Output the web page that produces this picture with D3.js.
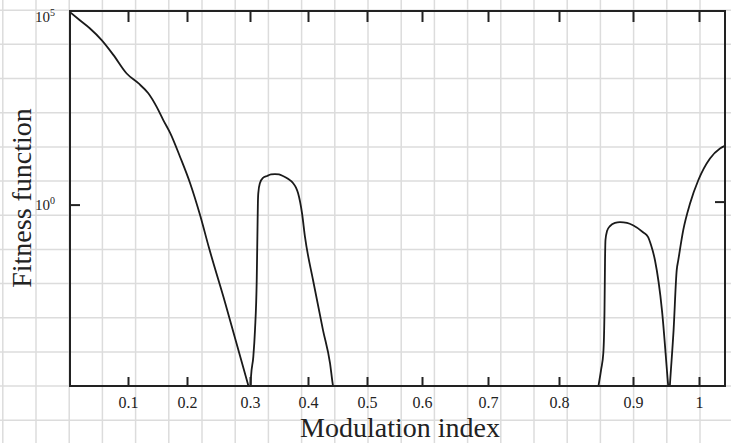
<!DOCTYPE html>
<head>
<meta charset="utf-8">
<script src="https://d3js.org/d3.v7.min.js"></script>
<style>
  body { margin: 0; background: #fff; }
  text { font-family: "Liberation Serif", "Times New Roman", serif; fill: #222; }
</style>
</head>
<body>
<svg id="chart" width="731" height="443"></svg>
<script>
  // tick values along the modulation index axis
  const xTicks = [0.1, 0.2, 0.3, 0.4, 0.5, 0.6, 0.7, 0.8, 0.9, 1];
  // the printed axis is not evenly spaced, these are the calibration points
  const xCalib = [0, 0.1, 0.2, 0.3, 0.4, 0.5, 0.6, 0.7, 0.8, 0.9, 1, 1.04];
  // decades labelled on the fitness axis
  const yTickExp = [5, 0];

  // the curve: modulation index and log10 of the fitness (null = gap)
  const modIndex = [
    0, 0.017, 0.0345, 0.0546, 0.0747, 0.0977, 0.1175, 0.1344, 0.1486, 0.1598,
    0.1714, 0.1883, 0.2048, 0.2206, 0.2349, 0.2603, 0.3,
    0.3002,
    0.3009, 0.3017, 0.3057, 0.3086, 0.3116, 0.3129, 0.3136, 0.3143, 0.3172, 0.3224,
    0.3293, 0.3362, 0.3431, 0.35, 0.3569, 0.3655, 0.3741, 0.3793, 0.3828, 0.3897,
    0.3948, 0.4085, 0.4254, 0.4373, 0.4424, 0.4458,
    0.45,
    0.8514, 0.8531, 0.8568, 0.8599, 0.8615, 0.8622, 0.8628, 0.8649, 0.8689, 0.8757,
    0.8824, 0.8919, 0.9, 0.9152, 0.9227, 0.9273, 0.9333, 0.9439, 0.953, 0.9548,
    0.9561, 0.9615, 0.9662, 0.9686, 0.9762, 0.9864, 0.9989, 1.0169, 1.0323, 1.039
  ];
  const fitnessExp = [
    4.97, 4.76, 4.55, 4.25, 3.87, 3.39, 3.14, 2.88, 2.53, 2.19,
    1.86, 1.24, 0.57, -0.25, -1.1, -2.5, -4.8,
    null,
    -4.8, -4.43, -3.91, -3.22, -1.93, -0.64, 0.05, 0.31, 0.57, 0.7,
    0.75, 0.79, 0.8, 0.79, 0.75, 0.68, 0.57, 0.45, 0.31, -0.21,
    -0.82, -1.93, -3.22, -4.07, -4.66, -4.9,
    null,
    -4.9, -4.69, -4.25, -3.81, -2.71, -1.42, -0.9, -0.67, -0.54, -0.46,
    -0.44, -0.46, -0.52, -0.7, -0.82, -1.03, -1.42, -2.71, -4.59, -4.95,
    -4.59, -3.22, -1.68, -1.42, -0.64, 0.04, 0.64, 1.2, 1.46, 1.52
  ];

  const svg = d3.select("#chart"),
    width = +svg.attr("width"),
    height = +svg.attr("height");
  const margin = {top: 11, right: 6, bottom: 57, left: 70};
  const plotW = width - margin.left - margin.right,
    plotH = height - margin.top - margin.bottom;

  // piecewise linear so the ticks land where the printed ones are
  const x = d3.scaleLinear()
    .domain(xCalib)
    .range([0, 58, 117, 180, 238, 297, 352, 418, 489, 563, 629, 655].map(v => margin.left + v * plotW / 655));
  const y = d3.scaleLog()
    .domain([Math.pow(10, -4.66), 1e5])
    .range([margin.top + plotH, margin.top]);

  // grid paper background
  const grid = svg.append("g").attr("stroke", "#dcdcdc").attr("stroke-width", 1.5);
  grid.selectAll("line.v")
    .data(d3.range(0, 23))
    .join("line")
    .attr("class", "v")
    .attr("x1", k => 2.8 + k * 33.2).attr("x2", k => 2.8 + k * 33.2)
    .attr("y1", 0).attr("y2", height);
  grid.selectAll("line.h")
    .data(d3.range(0, 13))
    .join("line")
    .attr("class", "h")
    .attr("y1", k => 10.2 + k * 34.17).attr("y2", k => 10.2 + k * 34.17)
    .attr("x1", 0).attr("x2", width);

  // curve
  svg.append("clipPath").attr("id", "plotclip")
    .append("rect")
    .attr("x", margin.left).attr("y", margin.top)
    .attr("width", plotW).attr("height", plotH);

  const points = modIndex.map((m, i) => ({x: m, e: fitnessExp[i]}));
  const line = d3.line()
    .defined(d => d.e !== null)
    .x(d => x(d.x))
    .y(d => y(Math.pow(10, d.e)))
    .curve(d3.curveMonotoneX);

  svg.append("path")
    .datum(points)
    .attr("clip-path", "url(#plotclip)")
    .attr("fill", "none")
    .attr("stroke", "#1a1a1a")
    .attr("stroke-width", 1.8)
    .attr("d", line);

  // frame
  svg.append("rect")
    .attr("x", margin.left).attr("y", margin.top)
    .attr("width", plotW).attr("height", plotH)
    .attr("fill", "none")
    .attr("stroke", "#222")
    .attr("stroke-width", 2);

  // bottom axis, ticks pointing in
  const bottomAxis = svg.append("g")
    .attr("transform", `translate(0,${margin.top + plotH})`)
    .call(d3.axisBottom(x).tickValues(xTicks).tickSizeInner(-9).tickSizeOuter(0).tickPadding(11).tickFormat(d3.format("")));
  bottomAxis.select(".domain").remove();
  bottomAxis.selectAll(".tick line").attr("stroke", "#222").attr("stroke-width", 2);
  bottomAxis.selectAll(".tick text")
    .attr("font-family", "Liberation Serif")
    .attr("font-size", 16)
    .attr("fill", "#333");

  // top axis, ticks only
  const topAxis = svg.append("g")
    .attr("transform", `translate(0,${margin.top})`)
    .call(d3.axisTop(x).tickValues(xTicks).tickSizeInner(-11).tickSizeOuter(0).tickFormat(""));
  topAxis.select(".domain").remove();
  topAxis.selectAll(".tick line").attr("stroke", "#222").attr("stroke-width", 2);

  // left and right ticks at 10^0
  svg.append("g")
    .selectAll("line")
    .data([0])
    .join("line")
    .attr("x1", margin.left).attr("x2", margin.left + 10)
    .attr("y1", d => y(Math.pow(10, d))).attr("y2", d => y(Math.pow(10, d)))
    .attr("stroke", "#222").attr("stroke-width", 2);
  svg.append("g")
    .selectAll("line")
    .data([0])
    .join("line")
    .attr("x1", margin.left + plotW - 10).attr("x2", margin.left + plotW)
    .attr("y1", d => y(Math.pow(10, d)) - 3).attr("y2", d => y(Math.pow(10, d)) - 3)
    .attr("stroke", "#222").attr("stroke-width", 2);

  // y tick labels 10^n
  const ylab = svg.append("g")
    .selectAll("text")
    .data(yTickExp)
    .join("text")
    .attr("x", 55)
    .attr("y", d => Math.max(y(Math.pow(10, d)) + 5, 22))
    .attr("text-anchor", "end")
    .attr("font-size", 15)
    .attr("fill", "#333");
  ylab.append("tspan").text("10");
  ylab.append("tspan").attr("dy", -6).attr("font-size", 10).text(d => d);

  // axis titles
  svg.append("text")
    .attr("x", 400).attr("y", 437)
    .attr("text-anchor", "middle")
    .attr("font-size", 28)
    .text("Modulation index");
  svg.append("text")
    .attr("transform", "translate(31,198) rotate(-90)")
    .attr("text-anchor", "middle")
    .attr("font-size", 28)
    .text("Fitness function");
</script>
</body>
